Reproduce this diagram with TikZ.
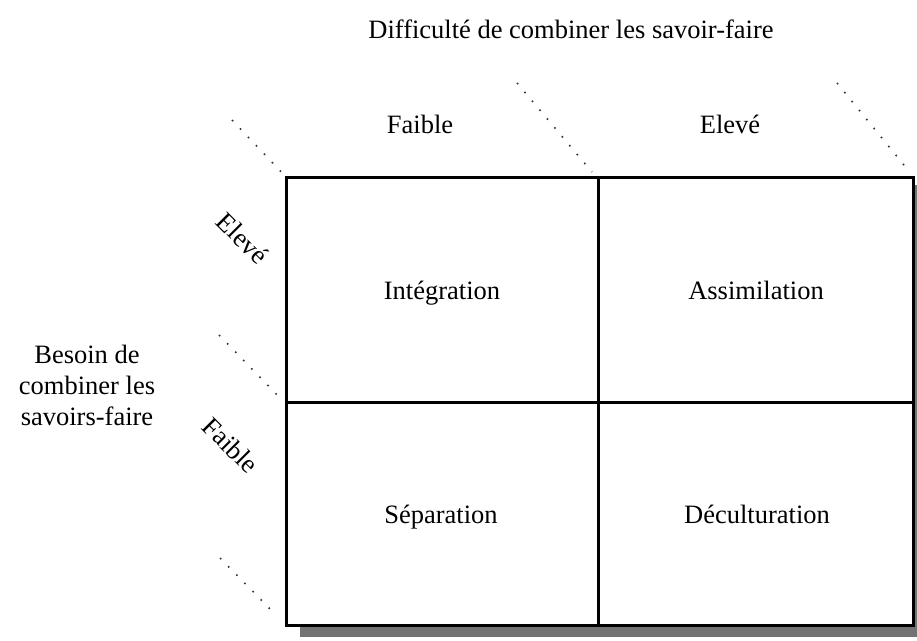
\documentclass[tikz,border=0pt]{standalone}
\usepackage{fontspec}
\setmainfont{Liberation Serif}
\begin{document}
\begin{tikzpicture}[x=1pt,y=-1pt,
  lbl/.style={font=\fontsize{26.5}{31}\selectfont, inner sep=0pt, text height=0.7em, text depth=0.22em},
  frame/.style={line width=3pt},
  dots/.style={line width=1.6pt, black!80, dash pattern=on 1.6pt off 10pt},
  shadowfill/.style={fill=black!55, draw=none}]
\useasboundingbox (0,0) rectangle (917,640);
% shadow
\fill[shadowfill] (300,625) rectangle (917,637);
\fill[shadowfill] (912,185) rectangle (917,637);
% frame coordinates
\coordinate (tl) at (286,177);
\coordinate (tr) at (913,177);
\coordinate (bl) at (286,625);
\coordinate (br) at (913,625);
\coordinate (tm) at (598,177);
\coordinate (bm) at (598,625);
\coordinate (ml) at (286,402);
\coordinate (mr) at (913,402);
\draw[frame] (tl) rectangle (br);
\draw[frame] (tm) -- (bm);
\draw[frame] (ml) -- (mr);
% dotted guides
\coordinate (d1a) at (232,120);
\coordinate (d2a) at (517,83);
\coordinate (d2b) at (592,172);
\coordinate (d3a) at (837,83);
\coordinate (d3b) at (908,170);
\coordinate (d4a) at (219,335);
\coordinate (d4b) at (282,400);
\coordinate (d5a) at (220,558);
\coordinate (d5b) at (276,615);
\draw[dots] (d1a) -- (tl);
\draw[dots] (d2a) -- (d2b);
\draw[dots] (d3a) -- (d3b);
\draw[dots] (d4a) -- (d4b);
\draw[dots] (d5a) -- (d5b);
% labels
\node[lbl] (title) at (571,36) {Difficulté de combiner les savoir-faire};
\node[lbl] (cfaible) at (420,131) {Faible};
\node[lbl] (celeve) at (730,131) {Elevé};
\node[lbl, rotate=-45] (releve) at (238,243) {Elevé};
\node[lbl, rotate=-45] (rfaible) at (226,450) {Faible};
\node[font=\fontsize{26.5}{31}\selectfont, inner sep=0pt, align=center] (besoin) at (87,385) {Besoin de\\combiner les\\savoirs-faire};
\node[lbl] (integ) at (442,297) {Intégration};
\node[lbl] (assim) at (756,297) {Assimilation};
\node[lbl] (separ) at (441,521) {Séparation};
\node[lbl] (decul) at (757,521) {Déculturation};
\end{tikzpicture}
\end{document}
